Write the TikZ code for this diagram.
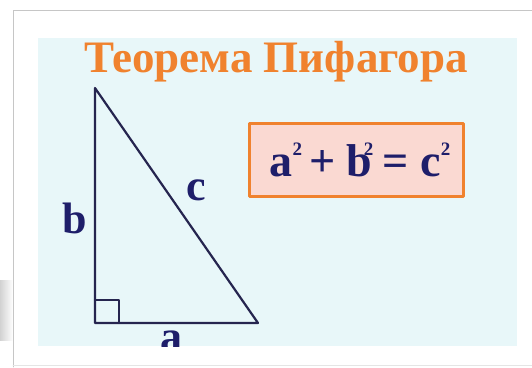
\documentclass[tikz,border=0pt]{standalone}
\usepackage{fontspec}
\setmainfont{Liberation Serif}
\usetikzlibrary{calc,positioning}
\definecolor{titleorange}{HTML}{F0822E}
\definecolor{inkblue}{HTML}{1E1E6A}
\definecolor{panelcyan}{HTML}{E8F7F9}
\definecolor{boxpink}{HTML}{FAD9D2}
\definecolor{lineink}{HTML}{25254F}
\tikzset{pixel/.style={
  x=1pt,y=-1pt,
  line join=round,line cap=round
}}
\newcommand{\sq}{\raisebox{21pt}{\fontsize{19}{19}\selectfont 2}}

\begin{document}
\begin{tikzpicture}[pixel,
  sidelabel/.style={text=inkblue,inner sep=0pt,font=\fontsize{44}{44}\selectfont\bfseries},
  side/.style={draw=lineink,line width=2.2pt}]
  \useasboundingbox (0,0) rectangle (532,367);
  % card and panel
  \fill[white] (0,0) rectangle (532,367);
  \shade[left color=gray!35,right color=white] (0,280) rectangle (13,340);
  \draw[gray!45,line width=0.8pt] (532,10) -- (13,10) -- (13,367);
  \draw[gray!20,line width=0.8pt] (13,365) -- (532,365);
  \fill[panelcyan] (38,38) rectangle (517,346);
  \node[text=titleorange,anchor=base,inner sep=0pt,font=\fontsize{45}{45}\selectfont\bfseries] (title) at (276,72) {Теорема Пифагора};
  % triangle
  \coordinate (A) at (95,88);
  \coordinate (B) at (95,323);
  \coordinate (C) at (258,323);
  \draw[side] (A) -- (B) -- (C) -- cycle;
  \draw[side] ($(B)+(0,-23)$) -- ++(24,0) -- ++(0,23);
  \node[sidelabel] (lb) at (75,218) {b};
  \node[sidelabel] (lc) at (196,190) {c};
  \begin{scope}
    \clip (38,38) rectangle (517,346);
    \node[sidelabel,anchor=north] (la) at (171,331) {a};
  \end{scope}
  % formula
  \draw[titleorange,fill=boxpink,line width=3pt] (249,123) rectangle (463,196);
  \node[text=inkblue,anchor=base,inner sep=0pt,font=\fontsize{46}{46}\selectfont\bfseries] (law) at (360,176)
    {a\sq\hspace{7pt}+\hspace{11pt}b\kern-8pt\sq\hspace{9pt}=\hspace{12pt}c\sq};
\end{tikzpicture}
\end{document}
